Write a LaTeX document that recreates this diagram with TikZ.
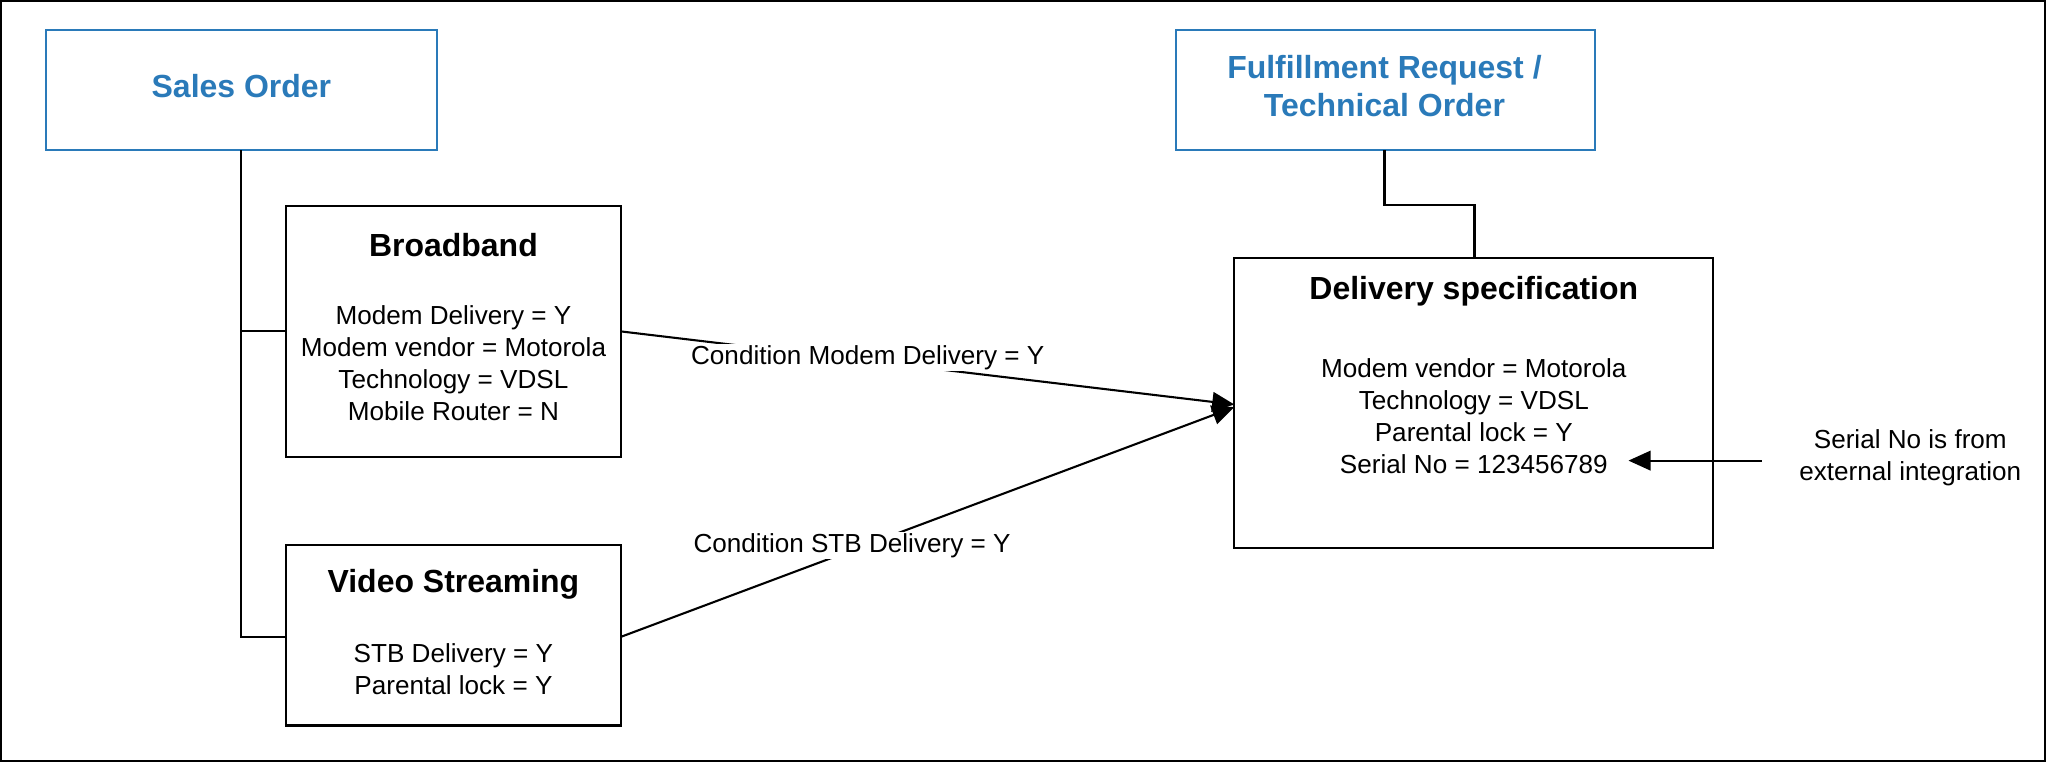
\documentclass[tikz,border=0pt]{standalone}
\usepackage{fontspec}
\setmainfont{Liberation Sans}
\usetikzlibrary{arrows.meta}
\definecolor{hdr}{HTML}{2A7AB9}
\begin{document}
\begin{tikzpicture}[x=1pt,y=-1pt,
  box/.style={draw,line width=1.6pt},
  hbox/.style={draw=hdr,line width=1.6pt},
  ln/.style={line width=1.6pt},
  body/.style={font=\fontsize{20}{24.5}\selectfont,align=center},
  ttl/.style={font=\fontsize{24.5}{29.5}\selectfont\bfseries,align=center},
  lab/.style={body,fill=white,inner sep=1pt},
  arr/.style={ln,-{Triangle[length=17pt,width=15pt]}}]
\draw[line width=1.5pt] (0.75,0.75) rectangle (1567.25,583.25);
\useasboundingbox (0,0) rectangle (1568,584);
% header boxes
\draw[hbox] (35,23) rectangle (335,115);
\node[ttl,text=hdr] (so) at (185,66) {Sales Order};
\draw[hbox] (901,23) rectangle (1222,115);
\node[ttl,text=hdr] (fr) at (1061,66) {Fulfillment Request /\\Technical Order};
% broadband
\draw[box] (219,158) rectangle (476,350);
\node[ttl] (bbt) at (347.5,188) {Broadband};
\node[body] (bbb) at (347.5,278) {Modem Delivery = Y\\Modem vendor = Motorola\\Technology = VDSL\\Mobile Router = N};
% video
\draw[box] (219,418) rectangle (476,556);
\node[ttl] (vst) at (347.5,448) {Video Streaming};
\node[body] (vsb) at (347.5,513) {STB Delivery = Y\\Parental lock = Y};
% delivery
\draw[box] (946,198) rectangle (1313,420);
\node[ttl] (dst) at (1129.5,223) {Delivery specification};
\node[body] (dsb) at (1129.5,319) {Modem vendor = Motorola\\Technology = VDSL\\Parental lock = Y\\Serial No = 123456789};
% tree
\coordinate (sob) at (185,115);
\coordinate (bbl) at (219,254);
\coordinate (vsl) at (219,488);
\draw[ln] (sob) -- (185,488) -- (vsl);
\draw[ln] (185,254) -- (bbl);
\coordinate (frb) at (1061,115);
\coordinate (dstop) at (1130,198);
\draw[ln] (frb) -- (1061,157) -- (1130,157) -- (dstop);
% condition arrows
\coordinate (bbr) at (476,254);
\coordinate (vsr) at (476,488);
\coordinate (dsl1) at (946,310);
\coordinate (dsl2) at (946,312);
\draw[arr] (bbr) -- (dsl1);
\node[lab] (c1) at (665,274) {Condition Modem Delivery = Y};
\draw[arr] (vsr) -- (dsl2);
\node[lab] (c2) at (653,418) {Condition STB Delivery = Y};
% serial
\node[body] (ser) at (1464,351) {Serial No is from\\external integration};
\coordinate (s0) at (1350,353);
\coordinate (s1) at (1248,353);
\draw[arr] (s0) -- (s1);
\end{tikzpicture}
\end{document}
